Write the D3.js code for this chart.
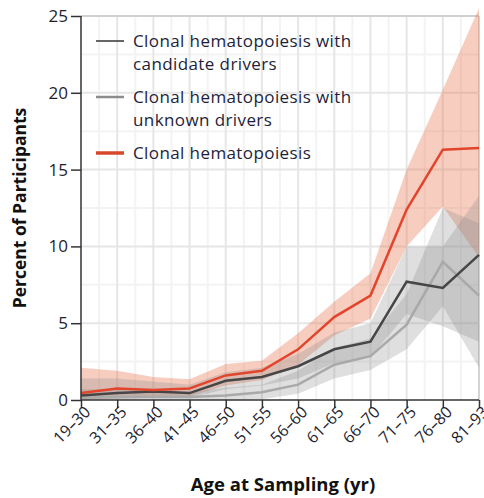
<!DOCTYPE html>
<html>
<head>
<meta charset="utf-8">
<script src="https://cdn.jsdelivr.net/npm/d3@7"></script>
<style>
  html, body { margin: 0; padding: 0; background: #fff; }
  svg { display: block; font-family: "Open Sans", Lato, sans-serif; }
</style>
</head>
<body>
<svg id="chart" width="484" height="498"></svg>
<script>
// Age groups at sampling
const ageGroups = ["19–30", "31–35", "36–40", "41–45", "46–50", "51–55",
                   "56–60", "61–65", "66–70", "71–75", "76–80", "81–93"];

// Clonal hematopoiesis (any), percent of participants, with 95% band
const chAll      = [0.45, 0.75, 0.65, 0.75, 1.6, 1.9, 3.3, 5.4, 6.8, 12.4, 16.3, 16.4];
const chAllLow   = [0.0, 0.1, 0.15, 0.25, 0.95, 1.3, 2.3, 4.2, 5.3, 10.0, 12.6, 9.3];
const chAllHigh  = [2.1, 1.9, 1.5, 1.35, 2.35, 2.55, 4.35, 6.4, 8.25, 15.0, 20.2, 25.5];

// Clonal hematopoiesis with candidate drivers
const chCand     = [0.3, 0.45, 0.55, 0.45, 1.25, 1.5, 2.2, 3.3, 3.8, 7.7, 7.3, 9.45];
const chCandLow  = [0.05, 0.1, 0.15, 0.15, 0.7, 0.95, 1.4, 2.4, 2.8, 5.6, 4.8, 3.8];
const chCandHigh = [1.4, 1.4, 1.2, 1.0, 1.8, 2.1, 3.0, 4.4, 5.0, 10.0, 10.0, 13.3];

// Clonal hematopoiesis with unknown drivers
const chUnk      = [0.15, 0.2, 0.2, 0.2, 0.3, 0.5, 1.0, 2.3, 2.85, 4.9, 9.0, 6.8];
const chUnkLow   = [0.0, 0.0, 0.0, 0.0, 0.0, 0.05, 0.4, 1.4, 1.95, 3.3, 6.1, 2.1];
const chUnkHigh  = [0.7, 0.7, 0.6, 0.5, 0.8, 1.0, 1.9, 3.4, 4.0, 6.9, 12.5, 11.5];

const yTicks = [0, 5, 10, 15, 20, 25];
const legendLabels = [
  ["Clonal hematopoiesis with", "candidate drivers"],
  ["Clonal hematopoiesis with", "unknown drivers"],
  ["Clonal hematopoiesis"]
];

const svg = d3.select("#chart");
const plotLeft = 81, plotRight = 479, plotTop = 16, plotBottom = 400;

const x = d3.scalePoint().domain(ageGroups).range([plotLeft, plotRight]);
const y = d3.scaleLinear().domain([0, 25]).range([plotBottom, plotTop]);

// Grid: minor then major
const grid = svg.append("g");
const step = x.step();
ageGroups.slice(0, -1).forEach(g => {
  grid.append("line")
    .attr("x1", x(g) + step / 2).attr("x2", x(g) + step / 2)
    .attr("y1", plotTop).attr("y2", plotBottom)
    .attr("stroke", "#f3f3f3").attr("stroke-width", 2);
});
d3.range(2.5, 25, 5).forEach(v => {
  grid.append("line")
    .attr("x1", plotLeft).attr("x2", plotRight)
    .attr("y1", y(v)).attr("y2", y(v))
    .attr("stroke", "#f3f3f3").attr("stroke-width", 2);
});
ageGroups.slice(1).forEach((g, i) => {
  const last = i === ageGroups.length - 2;
  grid.append("line")
    .attr("x1", x(g)).attr("x2", x(g))
    .attr("y1", plotTop).attr("y2", plotBottom)
    .attr("stroke", last ? "#b8b8b8" : "#e6e6e6")
    .attr("stroke-width", last ? 1.2 : 2);
});
yTicks.slice(1).forEach(v => {
  grid.append("line")
    .attr("x1", plotLeft).attr("x2", plotRight)
    .attr("y1", y(v)).attr("y2", y(v))
    .attr("stroke", v === 25 ? "#d0d0d0" : "#e6e6e6").attr("stroke-width", 2);
});

// Confidence bands
const area = (lo, hi) => d3.area()
  .x((d, i) => x(ageGroups[i]))
  .y0((d, i) => y(lo[i]))
  .y1((d, i) => y(hi[i]))(lo);

svg.append("path").attr("d", area(chAllLow, chAllHigh))
  .attr("fill", "#e8704a").attr("fill-opacity", 0.35);
svg.append("path").attr("d", area(chUnkLow, chUnkHigh))
  .attr("fill", "#8a8a8a").attr("fill-opacity", 0.27);
svg.append("path").attr("d", area(chCandLow, chCandHigh))
  .attr("fill", "#8a8a8a").attr("fill-opacity", 0.27);

// Lines
const line = d3.line().x((d, i) => x(ageGroups[i])).y(d => y(d));
svg.append("path").attr("d", line(chUnk))
  .attr("fill", "none").attr("stroke", "#a9a9a9").attr("stroke-width", 2.5);
svg.append("path").attr("d", line(chCand))
  .attr("fill", "none").attr("stroke", "#464646").attr("stroke-width", 2.5);
svg.append("path").attr("d", line(chAll))
  .attr("fill", "none").attr("stroke", "#e2452b").attr("stroke-width", 2.5);

// Axes
const yAxis = svg.append("g").attr("transform", `translate(${plotLeft},0)`)
  .call(d3.axisLeft(y).tickValues(yTicks).tickSize(10).tickPadding(3));
const xAxis = svg.append("g").attr("transform", `translate(0,${plotBottom})`)
  .call(d3.axisBottom(x).tickSize(8).tickPadding(4));

[yAxis, xAxis].forEach(ax => {
  ax.select(".domain").attr("stroke", "#333").attr("stroke-width", 1.5);
  ax.selectAll(".tick line").attr("stroke", "#333").attr("stroke-width", 1.5);
  ax.selectAll("text").attr("fill", "#1e1e2e")
    .style("font-size", "17px").style("font-family", "'Open Sans', sans-serif");
});
yAxis.select(".domain").attr("d", `M0,${plotBottom}V${plotTop}`);
xAxis.select(".domain").attr("d", `M${plotLeft},0H${plotRight}`);

xAxis.selectAll(".tick text")
  .style("font-size", "16px")
  .attr("text-anchor", "end")
  .attr("dy", 0)
  .attr("transform", "translate(10,13) rotate(-45)")
  .attr("y", 0).attr("x", 0);

// Axis titles
svg.append("text")
  .attr("x", 283).attr("y", 491)
  .attr("text-anchor", "middle")
  .style("font-size", "18.5px").style("font-weight", "bold")
  .attr("fill", "#111")
  .text("Age at Sampling (yr)");

svg.append("text")
  .attr("transform", "translate(26,208) rotate(-90)")
  .attr("text-anchor", "middle")
  .style("font-size", "17.5px").style("font-weight", "bold")
  .attr("fill", "#111")
  .text("Percent of Participants");

// Legend
const legend = svg.append("g");
const legendStyles = [
  { color: "#333", width: 1.5, y: 41 },
  { color: "#8c8c8c", width: 2.5, y: 97 },
  { color: "#d9472b", width: 3.5, y: 153 }
];
legendLabels.forEach((lines, i) => {
  const s = legendStyles[i];
  legend.append("line")
    .attr("x1", 96).attr("x2", 124)
    .attr("y1", s.y).attr("y2", s.y)
    .attr("stroke", s.color).attr("stroke-width", s.width);
  lines.forEach((t, j) => {
    legend.append("text")
      .attr("x", 133).attr("y", s.y + 6 + j * 23)
      .style("font-size", "17px")
      .style("letter-spacing", "0.4px")
      .attr("fill", "#1e1e3a")
      .text(t);
  });
});
</script>
</body>
</html>
